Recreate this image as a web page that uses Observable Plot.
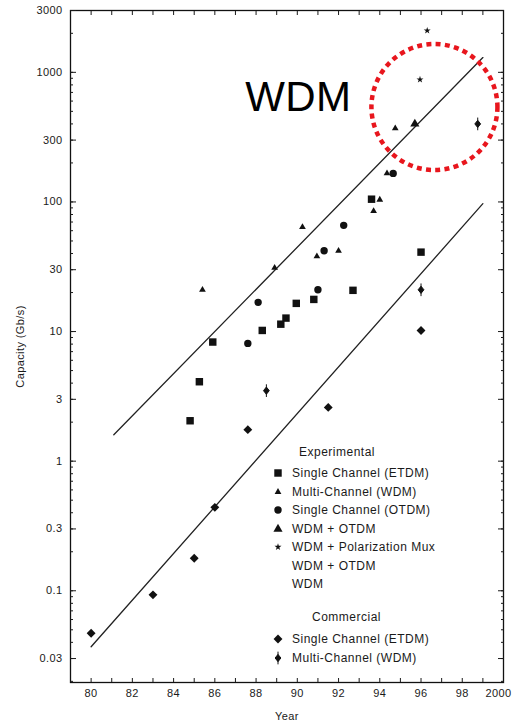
<!DOCTYPE html>
<html><head><meta charset="utf-8">
<script src="https://cdn.jsdelivr.net/npm/d3@7"></script>
<script src="https://cdn.jsdelivr.net/npm/@observablehq/plot@0.6"></script>
<style>
body{margin:0;background:#fff;}
#wrap{position:relative;width:515px;height:721px;overflow:hidden;font-family:"Liberation Sans",Arial,sans-serif;color:#1a1a1a;}
.lg{position:absolute;font-size:12px;letter-spacing:0.5px;line-height:14px;white-space:nowrap;transform:translateY(-50%);}
.lgsym{position:absolute;transform:translate(-50%,-50%);}
</style></head><body><div id="wrap"></div>
<script>
// ---------- data ----------
// Experimental
const expEtdmYear = [84.8, 85.25, 85.9, 88.3, 89.2, 89.45, 89.95, 90.8, 92.7, 93.6, 96.0];
const expEtdmCap  = [2.05, 4.1, 8.3, 10.2, 11.4, 12.7, 16.5, 17.7, 20.8, 105, 41];
const expWdmYear  = [85.4, 88.9, 90.25, 90.95, 92.0, 93.7, 94.0, 94.35, 94.75];
const expWdmCap   = [21, 31, 64, 38, 42, 85, 104, 166, 370];
const expOtdmYear = [87.6, 88.1, 91.0, 91.3, 92.25, 94.65];
const expOtdmCap  = [8.1, 16.8, 21, 42, 66, 166];
const expWdmOtdmYear = [95.7];
const expWdmOtdmCap  = [400];
const expPolMuxYear = [95.95, 96.3];
const expPolMuxCap  = [880, 2100];
// Commercial
const comEtdmYear = [80.0, 83.0, 85.0, 86.0, 87.6, 91.5, 96.0];
const comEtdmCap  = [0.047, 0.093, 0.178, 0.44, 1.75, 2.6, 10.2];
const comWdmYear  = [88.5, 96.0, 98.75];
const comWdmCap   = [3.5, 21, 400];
// Trend lines
const upperLineYear = [81.1, 99];
const upperLineCap  = [1.6, 1300];
const lowerLineYear = [80, 99];
const lowerLineCap  = [0.037, 97];
// Annotation
const annoText = "WDM";
const annoYear = 90.05, annoCap = 640;
const circleYear = 96.65, circleCap = 540;
// Axes
const yTicks = [0.03, 0.1, 0.3, 1, 3, 10, 30, 100, 300, 1000, 3000];
const yTickLabels = ["0.03", "0.1", "0.3", "1", "3", "10", "30", "100", "300", "1000", "3000"];
const xTicks = [80, 82, 84, 86, 88, 90, 92, 94, 96, 98];
const xTickLabels = ["80", "82", "84", "86", "88", "90", "92", "94", "96", "98"];
const xLastTick = [100];
const xLastTickLabel = "2000";
const xMinorTicks = d3.range(80, 100);
const yLabel = "Capacity (Gb/s)";
const xLabel = "Year";
// Legend
const expHeader = "Experimental";
const comHeader = "Commercial";
const expLegendLabels = ["Single Channel (ETDM)", "Multi-Channel (WDM)", "Single Channel (OTDM)", "WDM + OTDM", "WDM + Polarization Mux", "WDM + OTDM", "WDM"];
const comLegendLabels = ["Single Channel (ETDM)", "Multi-Channel (WDM)"];

// ---------- symbols ----------
const diamondStem = {
  draw(ctx, size) {
    const r = Math.sqrt(size / Math.PI);
    const w = r * 1.0, h = r * 1.25;
    ctx.moveTo(0, -h); ctx.lineTo(w, 0); ctx.lineTo(0, h); ctx.lineTo(-w, 0); ctx.closePath();
    ctx.moveTo(0, -h * 1.75); ctx.lineTo(0, h * 1.75);
  }
};
const d3sym = {square: d3.symbolSquare, triangle: d3.symbolTriangle, circle: d3.symbolCircle, star: d3.symbolStar, diamond2: d3.symbolDiamond2};
const series = [
  {years: expEtdmYear, caps: expEtdmCap, symbol: "square", r: 4.2, stroke: null},
  {years: expWdmYear, caps: expWdmCap, symbol: "triangle", r: 2.5, stroke: null},
  {years: expOtdmYear, caps: expOtdmCap, symbol: "circle", r: 3.7, stroke: null},
  {years: expWdmOtdmYear, caps: expWdmOtdmCap, symbol: "triangle", r: 3.4, stroke: null},
  {years: expPolMuxYear, caps: expPolMuxCap, symbol: "star", r: 2.2, stroke: null},
  {years: comEtdmYear, caps: comEtdmCap, symbol: "diamond2", r: 4.0, stroke: null},
  {years: comWdmYear, caps: comWdmCap, symbol: diamondStem, r: 2.9, stroke: "#111"}
];

// ---------- plot ----------
const minorY = [];
for (let e = -2; e <= 3; e++) for (let k = 1; k <= 9; k++) {
  const v = k * Math.pow(10, e);
  if (v >= 0.0196 && v <= 3000) minorY.push(+v.toPrecision(3));
}
const font = {fontFamily: "Liberation Sans, Arial, sans-serif"};
const marks = [
  Plot.frame({stroke: "#111", strokeWidth: 1.3}),
  Plot.axisY(yTicks, {anchor: "left", tickSize: 0, tickPadding: 8, fontSize: 11, tickFormat: (d) => yTickLabels[yTicks.indexOf(d)], label: yLabel, labelAnchor: "center", labelOffset: 54, labelArrow: "none"}),
  Plot.axisY(yTicks, {anchor: "left", tickSize: -6, tickFormat: () => "", label: null}),
  Plot.axisY(minorY, {anchor: "left", tickSize: -3, tickFormat: () => "", label: null}),
  Plot.axisY(yTicks, {anchor: "right", tickSize: -6, tickFormat: () => "", label: null}),
  Plot.axisY(minorY, {anchor: "right", tickSize: -3, tickFormat: () => "", label: null}),
  Plot.axisX(xTicks, {anchor: "bottom", tickSize: 0, tickPadding: 7, fontSize: 11, tickFormat: d => xTickLabels[xTicks.indexOf(d)], label: xLabel, labelAnchor: "center", labelOffset: 37, labelArrow: "none"}),
  Plot.axisX(xLastTick, {anchor: "bottom", tickSize: 0, tickPadding: 7, fontSize: 11, dx: -5, tickFormat: () => xLastTickLabel, label: null}),
  Plot.axisX(xMinorTicks, {anchor: "bottom", tickSize: -4, tickFormat: () => "", label: null}),
  Plot.axisX(xMinorTicks, {anchor: "top", tickSize: -4, tickFormat: () => "", label: null}),
  Plot.line(upperLineYear.map((x, i) => ({x, y: upperLineCap[i]})), {x: "x", y: "y", stroke: "#222", strokeWidth: 1.3}),
  Plot.line(lowerLineYear.map((x, i) => ({x, y: lowerLineCap[i]})), {x: "x", y: "y", stroke: "#222", strokeWidth: 1.3}),
  ...series.map(s => Plot.dot(s.years.map((x, i) => ({x, y: s.caps[i]})), {
    x: "x", y: "y", symbol: () => s.symbol, r: s.r, fill: "#111", stroke: s.stroke || "none", strokeWidth: 1
  })),
  Plot.text([{x: annoYear, y: annoCap}], {x: "x", y: "y", text: () => annoText, fontSize: 42, fill: "#000", ...font}),
  Plot.dot([{x: circleYear, y: circleCap}], {x: "x", y: "y", r: 63, fill: "none", stroke: "#e8161d", strokeWidth: 4.5, strokeDasharray: "5,4.3"})
];
const chart = Plot.plot({
  width: 515, height: 721,
  marginLeft: 70, marginRight: 12, marginTop: 10, marginBottom: 39,
  style: {fontFamily: "Liberation Sans, Arial, sans-serif", fontSize: "11px", color: "#1a1a1a", background: "#fff", letterSpacing: "0.4px", overflow: "visible"},
  x: {domain: [79, 100]},
  y: {type: "log", domain: [0.0196, 3000]},
  marks
});
const wrap = document.getElementById("wrap");
wrap.appendChild(chart);

// ---------- legend (HTML overlay) ----------
function addText(txt, x, y) {
  const d = document.createElement("div");
  d.className = "lg"; d.textContent = txt;
  d.style.left = x + "px"; d.style.top = y + "px";
  wrap.appendChild(d);
}
function addSym(s, x, y) {
  const size = 16;
  const svg = d3.create("svg").attr("width", size).attr("height", size).attr("class", "lgsym")
    .style("left", x + "px").style("top", y + "px");
  const type = typeof s.symbol === "string" ? d3sym[s.symbol] : s.symbol;
  svg.append("path").attr("transform", `translate(${size / 2},${size / 2})`)
    .attr("d", d3.symbol(type, Math.PI * s.r * s.r)())
    .attr("fill", "#111").attr("stroke", s.stroke || "none");
  wrap.appendChild(svg.node());
}
addText(expHeader, 299, 452);
const expSyms = [series[0], series[1], series[2], series[3], series[4], null, null];
expLegendLabels.forEach((t, i) => {
  const y = 473 + i * 18.5;
  addText(t, 292, y);
  if (expSyms[i]) addSym(expSyms[i], 278, y);
});
addText(comHeader, 312, 617);
const comSyms = [series[5], series[6]];
comLegendLabels.forEach((t, i) => {
  const y = 639 + i * 18.5;
  addText(t, 292, y);
  addSym(comSyms[i], 278, y);
});
</script>
</body></html>
